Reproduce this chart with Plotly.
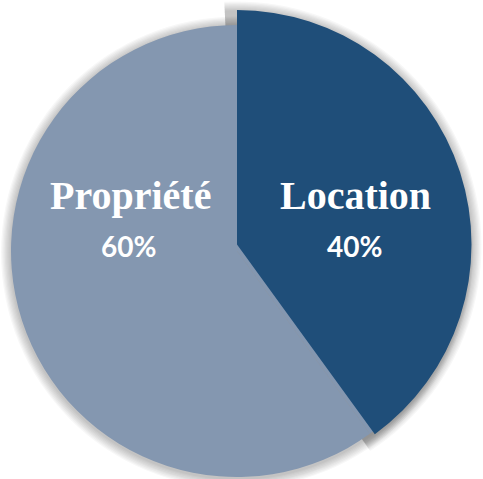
import math
import plotly.graph_objects as go

# ---- data ----
labels = ["Location", "Propriété"]
values = [40, 60]
colors = ["#1F4E79", "#8497B0"]

# ---- geometry (pixels) ----
W, H = 483, 479
LIGHT_C = (237.0, 251.0)
LIGHT_R = 226.0
DARK_X = (0.0, 474.0)
DARK_Y = (10.0, 479.0)


def fx(x):
    return x / W


def fy(y):
    return (H - y) / H


total = sum(values)
pcts = [round(v / total * 100) for v in values]

fig = go.Figure()

# base pie (light colour underneath; the Location slice is overdrawn by the exploded slice)
fig.add_trace(go.Pie(
    labels=labels, values=values, sort=False, direction="clockwise", rotation=0,
    marker=dict(colors=[colors[1], colors[1]], line=dict(width=0)),
    textinfo="none", hoverinfo="skip", showlegend=False,
    domain=dict(x=[fx(LIGHT_C[0] - LIGHT_R), fx(LIGHT_C[0] + LIGHT_R)],
                y=[fy(LIGHT_C[1] + LIGHT_R), fy(LIGHT_C[1] - LIGHT_R)]),
))

# dark (Location) slice, exploded / enlarged
fig.add_trace(go.Pie(
    labels=labels, values=values, sort=False, direction="clockwise", rotation=0,
    marker=dict(colors=[colors[0], "rgba(0,0,0,0)"], line=dict(width=0)),
    textinfo="none", hoverinfo="skip", showlegend=False,
    domain=dict(x=[fx(DARK_X[0]), fx(DARK_X[1])], y=[fy(DARK_Y[1]), fy(DARK_Y[0])]),
))

# ---- soft shadow (decoration) ----
shapes = []
dark_cx = (DARK_X[0] + DARK_X[1]) / 2
dark_cy = (DARK_Y[0] + DARK_Y[1]) / 2
dark_r = min(DARK_X[1] - DARK_X[0], DARK_Y[1] - DARK_Y[0]) / 2
sweep = 360.0 * values[0] / total
for k in range(1, 9):
    d = 1.25 * k
    r = LIGHT_R + d
    cx, cy = LIGHT_C[0], LIGHT_C[1] + 1.5
    shapes.append(dict(type="circle", xref="paper", yref="paper", layer="below",
                       x0=fx(cx - r), x1=fx(cx + r), y0=fy(cy + r), y1=fy(cy - r),
                       fillcolor="rgba(0,0,0,0.03)", line=dict(width=0)))
    rr = dark_r + d
    pts = []
    for i in range(61):
        a = math.radians(-3 + (sweep + 6) * i / 60)
        px = dark_cx + rr * math.sin(a)
        py = dark_cy + 1.5 - rr * math.cos(a)
        pts.append(f"L{fx(px):.5f},{fy(py):.5f}")
    path = f"M{fx(dark_cx):.5f},{fy(dark_cy + 20):.5f} " + " ".join(pts) + " Z"
    shapes.append(dict(type="path", xref="paper", yref="paper", layer="below",
                       path=path, fillcolor="rgba(0,0,0,0.03)", line=dict(width=0)))

# ---- labels ----
label_pos = [(355, 196), (130, 196)]
pct_pos = [(354, 246), (128, 246)]
annotations = []
for i, lab in enumerate(labels):
    annotations.append(dict(
        text=lab, x=fx(label_pos[i][0]), y=fy(label_pos[i][1]), xref="paper", yref="paper",
        xanchor="center", yanchor="middle", showarrow=False,
        font=dict(family="Liberation Serif", size=40, color="white", weight="bold")))
    annotations.append(dict(
        text=f"{pcts[i]}%", x=fx(pct_pos[i][0]), y=fy(pct_pos[i][1]), xref="paper", yref="paper",
        xanchor="center", yanchor="middle", showarrow=False,
        font=dict(family="Lato", size=28, color="white", weight="bold")))

fig.update_layout(
    width=W, height=H, margin=dict(l=0, r=0, t=0, b=0),
    paper_bgcolor="white", plot_bgcolor="white",
    shapes=shapes, annotations=annotations, showlegend=False,
)

fig.write_html("out.html")
